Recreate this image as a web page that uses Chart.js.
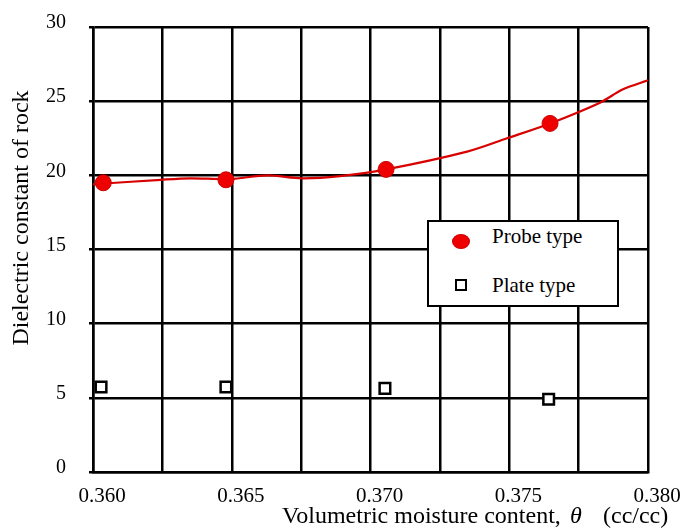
<!DOCTYPE html>
<html>
<head>
<meta charset="utf-8">
<script src="https://cdn.jsdelivr.net/npm/chart.js@4"></script>
<style>
    html, body { margin: 0; padding: 0; background: #fff; }
    #wrap { position: relative; width: 680px; height: 531px; }
    #legend {
        position: absolute; left: 427px; top: 220px; width: 192px; height: 87px;
        box-sizing: border-box; border: 2.5px solid #000; background: #fff;
        font-family: 'Liberation Serif', 'Times New Roman', serif; font-size: 21px; color: #000;
    }
    #legend .item { position: absolute; left: 63px; line-height: 24px; white-space: nowrap; }
    #legend .dot {
        position: absolute; width: 18px; height: 15px; border-radius: 50%;
        background: #ee0000; border: 1px solid #cc0000; box-sizing: border-box;
    }
    #legend .sq {
        position: absolute; width: 12px; height: 12px; box-sizing: border-box;
        border: 2.5px solid #000; background: #fff;
    }
</style>
</head>
<body>
<div id="wrap">
    <canvas id="chart" width="680" height="531"></canvas>
    <div id="legend">
        <div class="dot" style="left:23px; top:12px;"></div>
        <div class="item" style="top:2px;">Probe type</div>
        <div class="sq" style="left:26px; top:57px;"></div>
        <div class="item" style="top:51px;">Plate type</div>
    </div>
</div>
<script>
// Fitted curve through the probe readings
const curveX = [0.3600, 0.36245, 0.3635, 0.36494, 0.36627, 0.36753, 0.3689, 0.37056, 0.37348, 0.37492, 0.37647, 0.37827, 0.3791, 0.3800];
const curveY = [19.4, 19.7, 19.8, 19.75, 20.0, 19.8, 19.95, 20.4, 21.6, 22.5, 23.5, 24.9, 25.8, 26.4];

// Measured points
const probeX = [0.36037, 0.36479, 0.37056, 0.37647];
const probeY = [19.5, 19.7, 20.4, 23.5];
const plateX = [0.36029, 0.36479, 0.37052, 0.37642];
const plateY = [5.73, 5.73, 5.64, 4.9];

const xMin = 0.360, xMax = 0.380, xStep = 0.0025;
const yMin = 0, yMax = 30, yStep = 5;

const serif = "'Liberation Serif', 'Times New Roman', serif";
const toPoints = (xs, ys) => xs.map((x, i) => ({ x: x, y: ys[i] }));

// Axis titles drawn beside the plot
const axisTitles = {
    id: 'axisTitles',
    afterDraw(chart) {
        const ctx = chart.ctx;
        ctx.save();
        ctx.fillStyle = '#000';
        ctx.textBaseline = 'middle';

        // y title
        ctx.font = '24px ' + serif;
        ctx.textAlign = 'center';
        ctx.translate(22, 218);
        ctx.rotate(-Math.PI / 2);
        ctx.fillText('Dielectric constant of rock', 0, 0);
        ctx.setTransform(1, 0, 0, 1, 0, 0);

        // x title, theta in italics
        ctx.textAlign = 'left';
        ctx.font = '24px ' + serif;
        ctx.fillText('Volumetric moisture content,', 282, 517);
        ctx.font = 'italic 24px ' + serif;
        ctx.fillText('\u03b8', 570, 517);
        ctx.font = '24px ' + serif;
        ctx.fillText('(cc/cc)', 603, 517);
        ctx.restore();
    }
};

new Chart(document.getElementById('chart'), {
    type: 'scatter',
    data: {
        datasets: [
            {
                label: 'curve',
                data: toPoints(curveX, curveY),
                showLine: true,
                borderColor: '#d80000',
                borderWidth: 2.2,
                pointRadius: 0,
                tension: 0.3,
                order: 3
            },
            {
                label: 'Probe type',
                data: toPoints(probeX, probeY),
                pointStyle: 'circle',
                pointRadius: 8,
                backgroundColor: '#ee0000',
                borderColor: '#cc0000',
                borderWidth: 1,
                order: 1
            },
            {
                label: 'Plate type',
                data: toPoints(plateX, plateY),
                pointStyle: 'rect',
                pointRadius: 7.5,
                backgroundColor: '#fff',
                borderColor: '#000',
                borderWidth: 2.5,
                order: 2
            }
        ]
    },
    options: {
        responsive: false,
        animation: false,
        devicePixelRatio: 1,
        layout: { padding: { left: 0, top: 27, right: 32, bottom: 0 } },
        plugins: {
            legend: { display: false },
            tooltip: { enabled: false }
        },
        scales: {
            x: {
                type: 'linear',
                min: xMin,
                max: xMax,
                afterFit: (s) => { s.height = 59; s.paddingLeft = 0; s.paddingRight = 0; },
                grid: { color: '#000', lineWidth: 2.5, tickLength: 0, drawTicks: false },
                border: { color: '#000', width: 2.5 },
                ticks: {
                    stepSize: xStep,
                    autoSkip: false,
                    maxRotation: 0,
                    padding: 12,
                    labelOffset: 9,
                    color: '#000',
                    font: { family: serif, size: 21 },
                    callback: (v) => (Math.round(v * 10000) % 50 === 0 ? v.toFixed(3) : '')
                }
            },
            y: {
                min: yMin,
                max: yMax,
                afterFit: (s) => { s.width = 93; s.paddingTop = 0; s.paddingBottom = 0; },
                grid: { color: '#000', lineWidth: 2.5, tickLength: 4 },
                border: { color: '#000', width: 2.5 },
                ticks: {
                    stepSize: yStep,
                    padding: 23,
                    labelOffset: -4,
                    color: '#000',
                    font: { family: serif, size: 20 }
                }
            }
        }
    },
    plugins: [axisTitles]
});
</script>
</body>
</html>
